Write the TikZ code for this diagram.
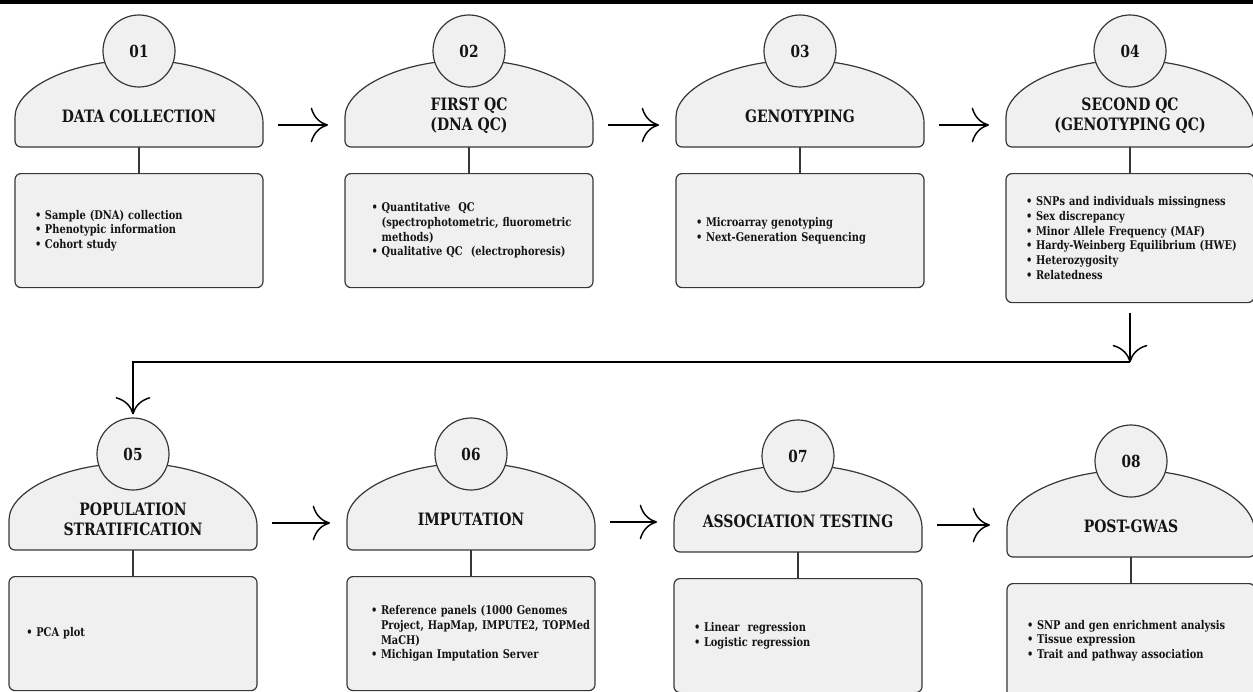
\documentclass[tikz,border=0pt]{standalone}
\usepackage{fontspec}
\setmainfont{DejaVu Serif}[FakeStretch=0.82]
\usetikzlibrary{arrows.meta,calc}
\definecolor{fillg}{RGB}{240,240,240}
\definecolor{edge}{RGB}{55,55,55}
\definecolor{ink}{RGB}{20,20,20}
\tikzset{
 dome/.style={draw=edge, fill=fillg, line width=0.9pt},
 numc/.style={circle, draw=edge, fill=fillg, line width=0.9pt, minimum size=54pt, inner sep=0pt, font=\fontsize{12.5pt}{14pt}\selectfont\bfseries, text=ink},
 ttl/.style={align=center, inner sep=0pt, font=\fontsize{12.8pt}{15pt}\selectfont\bfseries, text=ink},
 infobox/.style={draw=edge, fill=fillg, line width=0.9pt, rounded corners=4.5pt, minimum width=186pt, minimum height=85.5pt, text width=156pt, inner xsep=15pt, inner ysep=0pt, align=left, anchor=north, font=\fontsize{9pt}{11pt}\selectfont\bfseries, text=ink},
 conn/.style={draw=edge, line width=0.9pt},
 arr/.style={draw=black, line width=1.1pt, -{To[length=13pt,width=26pt]}}
}
\newcommand\bl[1]{\makebox[7.5pt][l]{\textbullet}\mbox{#1}}
\newcommand\cl[1]{\hspace*{7.5pt}\mbox{#1}}
\newcommand\stage[8]{%
\begin{scope}[shift={(#2,#3)}]
\draw[dome] (-124,72) .. controls (-124,37.2) and (-68.5,9) .. (0,9) .. controls (68.5,9) and (124,37.2) .. (124,72) [rounded corners=4.5pt] -- (124,96) -- (-124,96) -- cycle;
\coordinate (#1in) at (-141,#8);
\coordinate (#1out) at (139,#8);
\coordinate (#1b) at (0,96);
\node[numc] (#1n) at (0,0) {#4};
\node[ttl] (#1t) at (0,65) {#5};
\node[infobox,#6] (#1x) at (0,122) {#7};
\end{scope}
\draw[conn] (#1b) -- (#1x.north);
}
\begin{document}
\begin{tikzpicture}[x=0.75pt,y=-0.75pt]
\useasboundingbox (0,0) rectangle (1253,692);
\fill[black] (0,0) rectangle (1253,4);
\stage{s1}{139}{51}{01}{DATA COLLECTION}{}{\bl{Sample (DNA) collection}\\\bl{Phenotypic information}\\\bl{Cohort study}}{74}
\stage{s2}{469}{51}{02}{FIRST QC\\(DNA QC)}{inner xsep=20pt,text width=146pt}{\bl{Quantitative\ \ QC}\\\cl{(spectrophotometric, fluorometric}\\\cl{methods)}\\\bl{Qualitative QC\ \ (electrophoresis)}}{74}
\stage{s3}{800}{51}{03}{GENOTYPING}{}{\bl{Microarray genotyping}\\\bl{Next-Generation Sequencing}}{74}
\stage{s4}{1130}{51}{04}{SECOND QC\\(GENOTYPING QC)}{minimum height=96.75pt}{\bl{SNPs and individuals missingness}\\\bl{Sex discrepancy}\\\bl{Minor Allele Frequency (MAF)}\\\bl{Hardy-Weinberg Equilibrium (HWE)}\\\bl{Heterozygosity}\\\bl{Relatedness}}{74}
\stage{s5}{133}{454}{05}{POPULATION\\STRATIFICATION}{inner xsep=13pt,text width=160pt}{\bl{PCA plot}}{69}
\stage{s6}{471}{454}{06}{IMPUTATION}{inner xsep=18pt,text width=150pt}{\bl{Reference panels (1000 Genomes}\\\cl{Project, HapMap, IMPUTE2, TOPMed}\\\cl{MaCH)}\\\bl{Michigan Imputation Server}}{68}
\stage{s7}{798}{456}{07}{ASSOCIATION TESTING}{}{\bl{Linear\ \ regression}\\\bl{Logistic regression}}{69}
\stage{s8}{1131}{461}{08}{POST-GWAS}{}{\bl{SNP and gen enrichment analysis}\\\bl{Tissue expression}\\\bl{Trait and pathway association}}{69}
\draw[arr] (s1out) -- (s1out -| s2in);
\draw[arr] (s2out) -- (s2out -| s3in);
\draw[arr] (s3out) -- (s3out -| s4in);
\coordinate (turn) at ($(s4x.south)+(0,59)$);
\draw[arr] ([yshift=-7.5pt]s4x.south) -- (turn);
\draw[arr] (turn) -| ([yshift=2.25pt]s5n.north);
\draw[arr] (s5out) -- (s5out -| s6in);
\draw[arr] (s6out) -- (s6out -| s7in);
\draw[arr] (s7out) -- (s7out -| s8in);
\end{tikzpicture}
\end{document}
